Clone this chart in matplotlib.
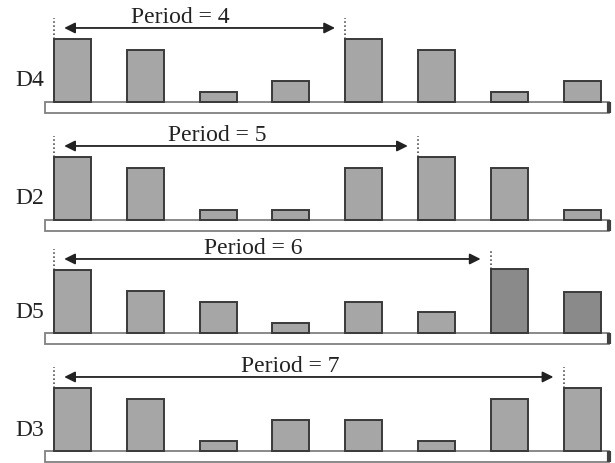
import matplotlib.pyplot as plt
from matplotlib.patches import Rectangle

plt.rcParams['font.family'] = ['Liberation Serif', 'DejaVu Serif']

labels = ['D4', 'D2', 'D5', 'D3']
periods = [4, 5, 6, 7]
values = [
    [6, 5, 1, 2, 6, 5, 1, 2],
    [6, 5, 1, 1, 5, 6, 5, 1],
    [6, 4, 3, 1, 3, 2, 6.1, 3.9],
    [6, 5, 1, 3, 3, 1, 5, 6],
]
# which bars are drawn darker (only in D5)
dark_bars = [[], [], [6, 7], []]

W, H = 615, 463
fig = plt.figure(figsize=(W / 100, H / 100), dpi=100)

bases = [102, 220, 333, 451]   # baseline pixel row of each panel
px_x = 72.8                    # pixels per bar slot
px_y = 10.5                    # pixels per value unit
x0 = 72.5                      # pixel centre of first bar
bw = 37 / px_x

for lab, per, vals, dk, b in zip(labels, periods, values, dark_bars, bases):
    bottom = (H - b - 12) / H
    ax = fig.add_axes([0, bottom, 1, 112 / H])
    ax.set_xlim(-x0 / px_x, (W - x0) / px_x)
    ax.set_ylim(-12 / px_y, 100 / px_y)
    ax.axis('off')

    xs = list(range(len(vals)))
    cols = ['#8a8a8a' if i in dk else '#a6a6a6' for i in xs]
    ax.bar(xs, vals, width=bw, color=cols, edgecolor='#3a3a3a', linewidth=1.4, zorder=3)

    # base strip
    left = (45 - x0) / px_x
    right = (609 - x0) / px_x
    ax.add_patch(Rectangle((left, -1.0), right - left, 1.0, facecolor='white',
                           edgecolor='#808080', linewidth=1.3, zorder=2))
    ax.plot([right, right], [-1.0, 0], color='#404040', linewidth=3, zorder=2,
            solid_capstyle='butt')

    # dotted markers at start of each period
    l0 = -bw / 2
    l1 = per - bw / 2
    ax.plot([l0, l0], [vals[0], 8.0], color='#333333', linestyle=':', linewidth=1.1)
    ax.plot([l1, l1], [vals[per], 8.0], color='#333333', linestyle=':', linewidth=1.1)

    gap = 0.14
    ax.annotate('', xy=(l1 - gap, 7.05), xytext=(l0 + gap, 7.05),
                arrowprops=dict(arrowstyle='<|-|>', color='#222222', linewidth=1.3,
                                mutation_scale=16, shrinkA=0, shrinkB=0))
    mid = (l0 + l1) / 2 - 0.26
    ax.text(mid, 7.5, f'Period = {per}', ha='center', va='baseline',
            fontsize=17, color='#222222')

    ax.text((15 - x0) / px_x, 2.0, lab, ha='left', va='center',
            fontsize=17, color='#222222')

fig.savefig('out.png', dpi=100, facecolor='white')
